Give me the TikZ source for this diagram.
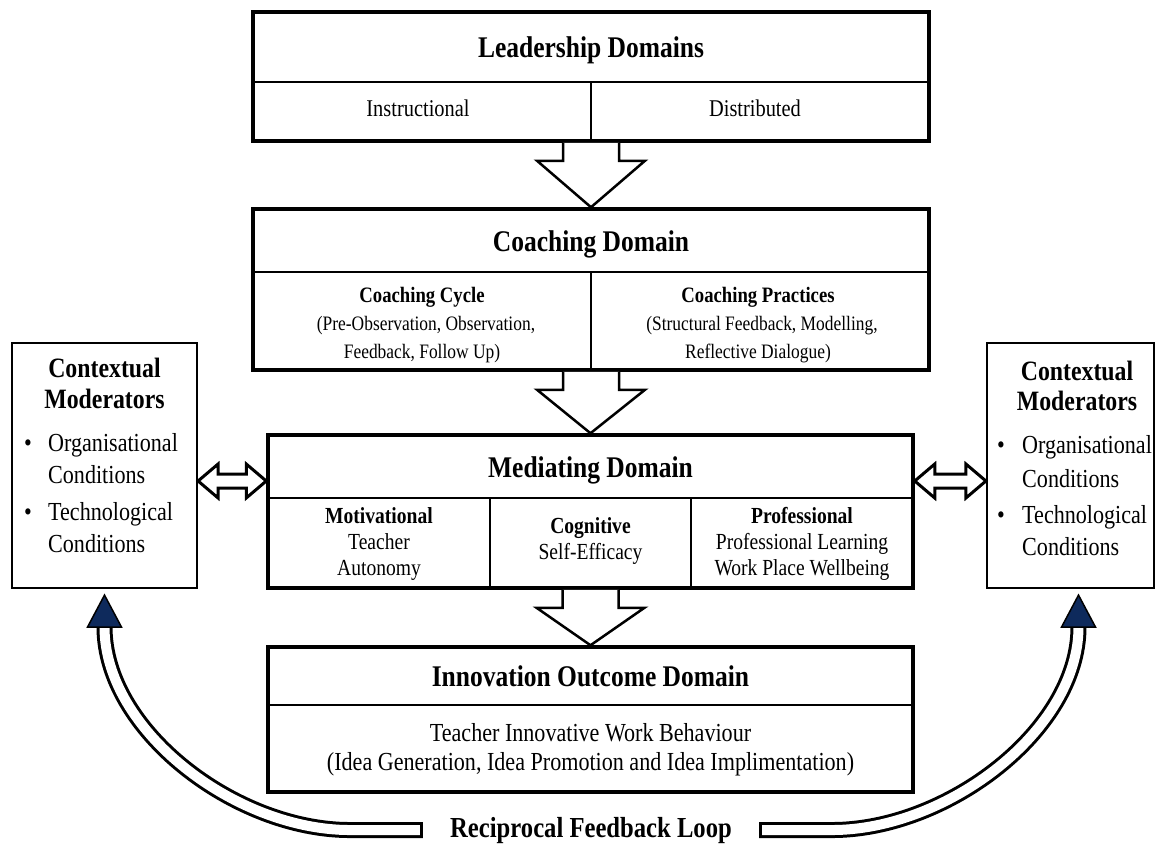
\documentclass[tikz,border=0pt]{standalone}
\usepackage{fontspec}
\setmainfont{Liberation Serif}[FakeStretch=0.85]
\usetikzlibrary{calc}
\definecolor{headblue}{RGB}{14,42,92}
\tikzset{
  domainbox/.style={draw, line width=3.5pt, inner sep=0pt},
  modbox/.style={draw, line width=2.2pt, inner sep=0pt},
  divline/.style={line width=2pt},
  blockarr/.style={draw, fill=white, line width=2.5pt, line join=miter},
  linkarr/.style={draw, fill=white, line width=3pt, line join=miter},
  loopline/.style={double=white, double distance=10pt, line width=3pt},
  headtip/.style={draw, fill=headblue, line width=1.5pt, line join=miter},
  plaintxt/.style={anchor=base, inner sep=0pt, font=\fontsize{#1}{#1}\selectfont},
  boldtxt/.style={anchor=base, inner sep=0pt, font=\fontsize{#1}{#1}\selectfont\bfseries},
}
% fat down arrow from box bottom to box top
\newcommand{\blockarrow}[2]{%
  \draw[blockarr] ($(#1)+(-28,0)$) -- ++(0,18) -- ++(-26,0) -- (#2)
    -- ($(#1)+(54,18)$) -- ++(-26,0) -- ++(0,-18);}
% outlined two-way arrow
\newcommand{\linkarrow}[2]{%
  \draw[linkarr] (#1) -- ++(20,-17) -- ++(0,10) -- ($(#2)+(-20,-7)$) -- ++(0,-10)
    -- (#2) -- ++(-20,17) -- ++(0,-10) -- ($(#1)+(20,7)$) -- ++(0,10) -- cycle;}

\begin{document}
\begin{tikzpicture}[x=1pt, y=-1pt]
  \fill[white] (0,0) rectangle (1156,843);
  \useasboundingbox (0,0) rectangle (1156,843);

  % domain boxes
  \node[domainbox, minimum width=676, minimum height=129] (lead) at (591,76.5) {};
  \node[domainbox, minimum width=676, minimum height=161] (coach) at (591,289.5) {};
  \node[domainbox, minimum width=645, minimum height=153] (med) at (590.5,511.5) {};
  \node[domainbox, minimum width=645, minimum height=145] (innov) at (590.5,719.5) {};
  \node[modbox, minimum width=185, minimum height=245] (modL) at (104.5,465.5) {};
  \node[modbox, minimum width=167, minimum height=245] (modR) at (1070.5,465.5) {};

  % inner rules
  \draw[divline] (lead.west |- 0,82) -- (lead.east |- 0,82);
  \draw[divline] (591,82) -- (lead.south);
  \draw[divline] (coach.west |- 0,272) -- (coach.east |- 0,272);
  \draw[divline] (591,272) -- (coach.south);
  \draw[divline] (med.west |- 0,498) -- (med.east |- 0,498);
  \draw[divline] (490,498) -- (490,588);
  \draw[divline] (691,498) -- (691,588);
  \draw[divline] (innov.west |- 0,705) -- (innov.east |- 0,705);

  % leadership
  \node[boldtxt=30] (leadT) at (591,57) {Leadership Domains};
  \node[plaintxt=24] (leadI) at (418,116) {Instructional};
  \node[plaintxt=24] (leadD) at (755,116) {Distributed};

  % coaching
  \node[boldtxt=30] (coachT) at (591,251) {Coaching Domain};
  \node[boldtxt=22] (cyc1) at (422,302) {Coaching Cycle};
  \node[plaintxt=20.5] (cyc2) at (426,330) {(Pre-Observation, Observation,};
  \node[plaintxt=20.5] (cyc3) at (422,358) {Feedback, Follow Up)};
  \node[boldtxt=22] (prc1) at (758,302) {Coaching Practices};
  \node[plaintxt=20.5] (prc2) at (762,330) {(Structural Feedback, Modelling,};
  \node[plaintxt=20.5] (prc3) at (758,358) {Reflective Dialogue)};

  % mediating
  \node[boldtxt=30] (medT) at (590.5,477) {Mediating Domain};
  \node[boldtxt=23] (mot1) at (379,523) {Motivational};
  \node[plaintxt=23] (mot2) at (379,549) {Teacher};
  \node[plaintxt=23] (mot3) at (379,575) {Autonomy};
  \node[boldtxt=23] (cog1) at (590.5,533) {Cognitive};
  \node[plaintxt=23] (cog2) at (590.5,559) {Self-Efficacy};
  \node[boldtxt=23] (pro1) at (802,523) {Professional};
  \node[plaintxt=23] (pro2) at (802,549) {Professional Learning};
  \node[plaintxt=23] (pro3) at (802,575) {Work Place Wellbeing};

  % innovation outcome
  \node[boldtxt=30] (innovT) at (590.5,686) {Innovation Outcome Domain};
  \node[plaintxt=26] (iwb1) at (590.5,741) {Teacher Innovative Work Behaviour};
  \node[plaintxt=26] (iwb2) at (590.5,770) {(Idea Generation, Idea Promotion and Idea Implimentation)};

  % contextual moderators, left
  \node[boldtxt=28] (modLt1) at (104.5,377) {Contextual};
  \node[boldtxt=28] (modLt2) at (104.5,408) {Moderators};
  \node[plaintxt=26] (modLb1) at (28,451) {•};
  \node[plaintxt=26, anchor=base west] (modLa1) at (48,451) {Organisational};
  \node[plaintxt=26, anchor=base west] (modLa2) at (48,483) {Conditions};
  \node[plaintxt=26] (modLb2) at (28,520) {•};
  \node[plaintxt=26, anchor=base west] (modLc1) at (48,520) {Technological};
  \node[plaintxt=26, anchor=base west] (modLc2) at (48,552) {Conditions};

  % contextual moderators, right
  \node[boldtxt=28] (modRt1) at (1077,380) {Contextual};
  \node[boldtxt=28] (modRt2) at (1077,410) {Moderators};
  \node[plaintxt=26] (modRb1) at (1001,453) {•};
  \node[plaintxt=26, anchor=base west] (modRa1) at (1022,453) {Organisational};
  \node[plaintxt=26, anchor=base west] (modRa2) at (1022,487) {Conditions};
  \node[plaintxt=26] (modRb2) at (1001,523) {•};
  \node[plaintxt=26, anchor=base west] (modRc1) at (1022,523) {Technological};
  \node[plaintxt=26, anchor=base west] (modRc2) at (1022,555) {Conditions};

  % flow between domains
  \blockarrow{lead.south}{coach.north}
  \blockarrow{coach.south}{med.north}
  \blockarrow{med.south}{innov.north}

  % two-way links to moderators
  \coordinate (lkA) at (modL.east |- 0,481);
  \coordinate (lkB) at (med.west |- 0,481);
  \coordinate (lkC) at (med.east |- 0,481);
  \coordinate (lkD) at (modR.west |- 0,481);
  \linkarrow{lkA}{lkB}
  \linkarrow{lkC}{lkD}

  % feedback loop
  \node[boldtxt=29, inner xsep=27pt] (loop) at (591,837) {Reciprocal Feedback Loop};
  \draw[loopline] (loop.west) -- ++(-73,0) .. controls +(-115,0) and +(0,103) .. ($(modL.south)+(0,38)$);
  \draw[loopline] (loop.east) -- ++(73,0) .. controls +(115,0) and +(0,103) .. ($(modR.south)+(8,38)$);
  \draw[line width=3pt] ($(loop.west)+(-1.5,-8)$) -- ($(loop.west)+(-1.5,8)$);
  \draw[line width=3pt] ($(loop.east)+(1.5,-8)$) -- ($(loop.east)+(1.5,8)$);
  \filldraw[headtip] ($(modL.south)+(0,6)$) -- ++(17,32) -- ++(-34,0) -- cycle;
  \filldraw[headtip] ($(modR.south)+(8,6)$) -- ++(17,32) -- ++(-34,0) -- cycle;
\end{tikzpicture}
\end{document}
